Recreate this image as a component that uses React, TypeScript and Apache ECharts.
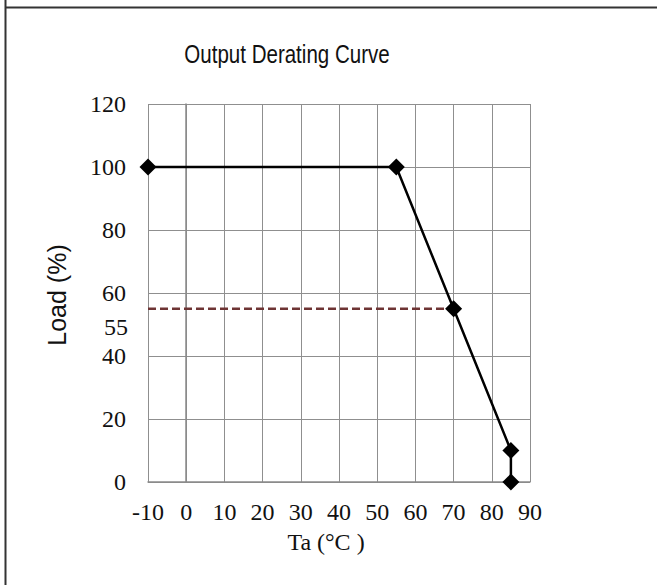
import React, { useEffect, useRef } from "react";
import * as echarts from "echarts";

const curveX = [-10, 55, 70, 85, 85];
const curveY = [100, 100, 55, 10, 0];
const refX = [-10, 70];
const refY = [55, 55];
const extraYLabel = "55";
const titleText = "Output Derating Curve";
const yName = "Load (%)";
const xName = "Ta (°C )";

export default function App() {
  const ref = useRef<HTMLDivElement>(null);
  useEffect(() => {
    document.body.style.margin = "0";
    const chart = echarts.init(ref.current!, undefined, { renderer: "svg" });
    const serif = "Liberation Serif, Times New Roman, serif";
    const sans = "Liberation Sans, Arial, sans-serif";
    chart.setOption({
      animation: false,
      backgroundColor: "#ffffff",
      grid: { left: 148, top: 104, right: 127, bottom: 103, containLabel: false },
      xAxis: {
        type: "value",
        min: -10,
        max: 90,
        interval: 10,
        axisLine: { show: true, onZero: false, lineStyle: { color: "#8a8a8a", width: 1.5 } },
        axisTick: { show: false },
        axisLabel: { color: "#111", fontFamily: serif, fontSize: 24, margin: 18 },
        splitLine: { show: true, lineStyle: { color: "#8f8f8f", width: 1 } },
      },
      yAxis: {
        type: "value",
        min: 0,
        max: 120,
        interval: 20,
        axisLine: { show: true, lineStyle: { color: "#8a8a8a", width: 1.5 } },
        axisTick: { show: false },
        axisLabel: { color: "#111", fontFamily: serif, fontSize: 24, margin: 22 },
        splitLine: { show: true, lineStyle: { color: "#8f8f8f", width: 1 } },
      },
      graphic: [
        { type: "line", shape: { x1: 5.5, y1: 0, x2: 5.5, y2: 585 }, style: { stroke: "#333", lineWidth: 2 } },
        { type: "line", shape: { x1: 5, y1: 7.5, x2: 657, y2: 7.5 }, style: { stroke: "#333", lineWidth: 2 } },
        {
          type: "text", x: 287, y: 54, scaleX: 0.79,
          style: { text: titleText, fontFamily: sans, fontSize: 26, fill: "#111", textAlign: "center", textVerticalAlign: "middle" },
        },
        {
          type: "text", x: 57, y: 295, rotation: Math.PI / 2,
          style: { text: yName, fontFamily: sans, fontSize: 25, fill: "#111", textAlign: "center", textVerticalAlign: "middle" },
        },
        {
          type: "text", x: 326, y: 542,
          style: { text: xName, fontFamily: serif, fontSize: 24, fill: "#111", textAlign: "center", textVerticalAlign: "middle" },
        },
        {
          type: "text", x: 128, y: 327,
          style: { text: extraYLabel, fontFamily: serif, fontSize: 24, fill: "#111", textAlign: "right", textVerticalAlign: "middle" },
        },
      ],
      series: [
        {
          type: "line",
          data: refX.map((x, i) => [x, refY[i]]),
          showSymbol: false,
          symbol: "none",
          lineStyle: { color: "#6e3434", width: 2.5, type: [8, 4] },
          z: 2,
        },
        {
          type: "line",
          data: curveX.map((x, i) => [x, curveY[i]]),
          symbol: "diamond",
          symbolSize: 17,
          itemStyle: { color: "#000" },
          lineStyle: { color: "#000", width: 2.5 },
          z: 3,
        },
      ],
    });
    return () => chart.dispose();
  }, []);
  return <div ref={ref} style={{ position: "fixed", left: 0, top: 0, width: 657, height: 585 }} />;
}
